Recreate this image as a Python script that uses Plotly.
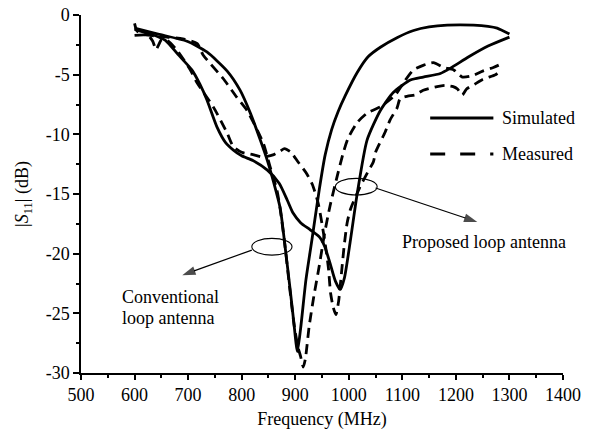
import plotly.graph_objects as go

# ---- data ----
freq_conv_sim = [600, 644, 698, 735, 773, 797, 816, 835, 848, 859, 872, 880, 890, 897, 904,
                 910, 920, 931, 945, 956, 968, 980, 993, 1016, 1036, 1059, 1090, 1121, 1150,
                 1184, 1233, 1260, 1277, 1300]
s11_conv_sim = [-1.1, -1.6, -2.2, -3.1, -4.7, -6.3, -8.2, -10.5, -12.2, -13.9, -16.2, -19.0, -22.8,
                -25.6, -28.2, -26.3, -22.2, -18.9, -14.6, -11.7, -9.6, -8.1, -6.8, -4.8, -3.5, -2.7,
                -1.9, -1.3, -1.0, -0.85, -0.85, -0.95, -1.1, -1.6]

freq_prop_sim = [600, 630, 657, 681, 707, 722, 735, 754, 770, 784, 800, 821, 848, 870, 885, 896,
                 910, 928, 945, 955, 965, 975, 984, 992, 1003, 1016, 1034, 1059, 1083, 1115, 1139,
                 1171, 1190, 1224, 1260, 1300]
s11_prop_sim = [-1.2, -1.6, -2.1, -3.3, -4.6, -5.8, -7.1, -9.4, -10.7, -11.3, -11.8, -12.2, -13.0,
                -14.1, -15.5, -16.6, -17.4, -18.0, -18.6, -19.4, -20.8, -22.3, -23.0, -22.0, -18.9,
                -14.9, -10.5, -8.0, -6.5, -5.45, -5.2, -4.9, -4.45, -3.5, -2.6, -1.85]

freq_conv_meas = [600, 604, 612, 650, 690, 717, 728, 765, 791, 810, 840, 853, 866, 872, 880, 890,
                  898, 905, 910, 915, 919, 926, 935, 945, 954, 965, 979, 990, 999, 1016, 1035, 1059,
                  1068, 1087, 1105, 1121, 1140, 1158, 1177, 1196, 1212, 1230, 1250, 1270, 1280]
s11_conv_meas = [-0.7, -1.3, -1.6, -1.8, -2.0, -2.4, -3.35, -5.3, -6.9, -8.0, -10.7, -12.7, -14.7,
                 -16.3, -19.0, -23.0, -26.0, -27.8, -28.6, -29.5, -28.8, -26.1, -23.5, -21.0, -18.5,
                 -16.0, -13.4, -11.5, -10.3, -9.0, -8.2, -7.7, -7.4, -6.7, -5.5, -4.6, -4.2, -4.0,
                 -4.4, -4.6, -5.2, -5.1, -4.7, -4.4, -4.2]

freq_prop_meas = [600, 625, 634, 640, 644, 650, 660, 680, 704, 717, 747, 773, 784, 800, 821, 840,
                  860, 872, 880, 892, 905, 920, 932, 943, 950, 957, 962, 966, 971, 976, 981, 986,
                  991, 997, 1003, 1020, 1035, 1046, 1050, 1068, 1077, 1090, 1096, 1110, 1124, 1139,
                  1165, 1180, 1195, 1203, 1212, 1220, 1235, 1250, 1274, 1280]
s11_prop_meas = [-1.7, -1.7, -2.2, -2.9, -2.6, -2.1, -2.1, -3.0, -4.6, -5.7, -7.7, -9.9, -11.0,
                 -11.5, -11.7, -11.9, -11.7, -11.4, -11.2, -11.5, -12.3, -13.2, -14.2, -15.8, -17.5,
                 -19.5, -21.2, -23.3, -24.5, -25.1, -24.0, -21.8, -19.5, -17.4, -16.3, -14.5, -13.2,
                 -12.3, -11.5, -9.8, -8.8, -7.8, -7.0, -6.8, -6.7, -6.3, -6.0, -5.9, -6.0, -6.2,
                 -6.7, -6.2, -5.8, -5.4, -5.0, -4.8]

x_ticks = [500, 600, 700, 800, 900, 1000, 1100, 1200, 1300, 1400]
y_ticks = [0, -5, -10, -15, -20, -25, -30]

# annotation arrows: [tail, head]
arrow_conv_x = [819, 689]
arrow_conv_y = [-19.7, -21.8]
arrow_prop_x = [1050, 1240]
arrow_prop_y = [-14.5, -17.35]

FONT = "Liberation Serif"
LW = 2.8
DASH = "10px,6px"

fig = go.Figure()
for fx, fy, dash in [(freq_conv_sim, s11_conv_sim, "solid"),
                     (freq_prop_sim, s11_prop_sim, "solid"),
                     (freq_conv_meas, s11_conv_meas, DASH),
                     (freq_prop_meas, s11_prop_meas, DASH)]:
    fig.add_trace(go.Scatter(x=fx, y=fy, mode="lines", showlegend=False,
                             line=dict(color="black", width=LW, dash=dash,
                                       shape="spline", smoothing=0.6)))

for ax_, ay_ in [(arrow_conv_x, arrow_conv_y), (arrow_prop_x, arrow_prop_y)]:
    fig.add_trace(go.Scatter(x=ax_, y=ay_, mode="lines+markers", showlegend=False,
                             hoverinfo="skip",
                             line=dict(color="black", width=1.2),
                             marker=dict(symbol="arrow", size=[0, 14], color="black",
                                         angleref="previous", line=dict(width=0))))

# legend (drawn manually, Origin style)
leg_x0, leg_x1, leg_text_x = 1152, 1270, 1283
leg_sim_y, leg_meas_y = -8.63, -11.65
shapes = [
    dict(type="line", xref="x", yref="y", x0=leg_x0, x1=leg_x1, y0=leg_sim_y, y1=leg_sim_y,
         line=dict(color="black", width=LW)),
    dict(type="line", xref="x", yref="y", x0=leg_x0, x1=leg_x1, y0=leg_meas_y, y1=leg_meas_y,
         line=dict(color="black", width=LW, dash="15px,15px")),
    # ellipses
    dict(type="circle", xref="x", yref="y", x0=819, x1=894, y0=-20.12, y1=-18.72,
         line=dict(color="black", width=1.1)),
    dict(type="circle", xref="x", yref="y", x0=975, x1=1053, y0=-15.09, y1=-13.69,
         line=dict(color="black", width=1.1)),
]

annotations = [
    dict(x=leg_text_x, y=leg_sim_y, xref="x", yref="y", text="Simulated", showarrow=False,
         xanchor="left", yanchor="middle"),
    dict(x=leg_text_x, y=leg_meas_y, xref="x", yref="y", text="Measured", showarrow=False,
         xanchor="left", yanchor="middle"),
    dict(x=573, y=-23.6, xref="x", yref="y", text="Conventional", showarrow=False,
         xanchor="left", yanchor="middle"),
    dict(x=573, y=-25.4, xref="x", yref="y", text="loop antenna", showarrow=False,
         xanchor="left", yanchor="middle"),
    dict(x=1096, y=-19.0, xref="x", yref="y", text="Proposed loop antenna", showarrow=False,
         xanchor="left", yanchor="middle"),
]

fig.update_layout(
    width=591, height=437,
    margin=dict(l=81, r=28, t=15, b=64, autoexpand=False),
    paper_bgcolor="white", plot_bgcolor="white",
    font=dict(family=FONT, size=18, color="black"),
    shapes=shapes, annotations=annotations,
    showlegend=False,
    xaxis=dict(range=[500, 1400], tickvals=x_ticks, ticktext=[str(v) for v in x_ticks],
               automargin=False,
               showline=True, linecolor="black", linewidth=1.5, mirror=False,
               ticks="outside", ticklen=5, tickwidth=1.5, tickcolor="black",
               minor=dict(ticks="outside", ticklen=3, tickwidth=1.5, tickcolor="black", dtick=50),
               showgrid=False, zeroline=False,
               title=dict(text="Frequency (MHz)", standoff=8, font=dict(family=FONT, size=18))),
    yaxis=dict(range=[-30, 0], tickvals=y_ticks, ticktext=[str(v) for v in y_ticks],
               automargin=False,
               showline=True, linecolor="black", linewidth=1.5, mirror=False,
               ticks="outside", ticklen=6, tickwidth=1.5, tickcolor="black",
               minor=dict(ticks="outside", ticklen=3, tickwidth=1.5, tickcolor="black", dtick=2.5),
               showgrid=False, zeroline=False,
               title=dict(text="|<i>S</i><sub>11</sub>| (dB)", standoff=12,
                          font=dict(family=FONT, size=18))),
)

fig.write_html("out.html")
